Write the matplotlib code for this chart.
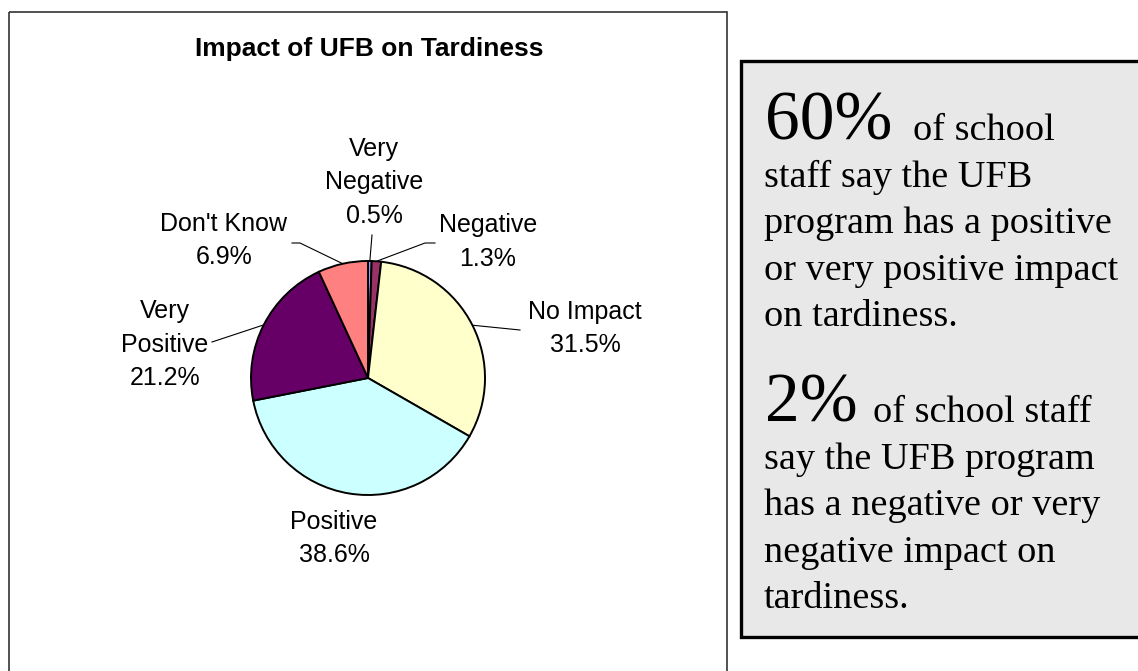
import matplotlib.pyplot as plt
from matplotlib.patches import Rectangle
import numpy as np

# data
categories = ["Very\nNegative", "Negative", "No Impact", "Positive", "Very\nPositive", "Don't Know"]
shares = [0.5, 1.3, 31.5, 38.6, 21.2, 6.9]
colors = ["#9999FF", "#993366", "#FFFFCC", "#CCFFFF", "#660066", "#FF8080"]
title = "Impact of UFB on Tardiness"

big_numbers = ["60%", "2%"]
lead_words = ["of school", "of school staff"]
body_lines = [["staff say the UFB", "program has a positive", "or very positive impact", "on tardiness."],
              ["say the UFB program", "has a negative or very", "negative impact on", "tardiness."]]

W, H = 1138, 671
fig = plt.figure(figsize=(W / 100, H / 100), dpi=100)
bg = fig.add_axes([0, 0, 1, 1])
bg.set_xlim(0, W)
bg.set_ylim(H, 0)
bg.axis('off')

sans = 'Liberation Sans'
serif = 'Liberation Serif'

# chart frame + title
bg.add_patch(Rectangle((9, 12), 718, 700, fill=False, ec='#333333', lw=1.2))
bg.text(369, 56, title, ha='center', va='baseline', fontsize=19, fontweight='bold', family=sans)

# pie, centre and radius in pixels
cx, cy, r = 368, 378, 117
pax = fig.add_axes([(cx - r) / W, (H - cy - r) / H, 2 * r / W, 2 * r / H])
wedges, _ = pax.pie(shares, colors=colors, startangle=90, counterclock=False,
                    wedgeprops=dict(edgecolor='black', linewidth=1.4))
for w in wedges:
    w.set_clip_on(False)
pax.set_xlim(-1, 1)
pax.set_ylim(-1, 1)

# label placement: x centre, first baseline, leader-line points from the label side
label_pos = [(374, 156), (488, 232), (585, 319), (334, 529), (165, 318), (224, 231)]
leaders = [[(372, 235)], [(435, 243), (425, 243)], [(520, 330)], [], [(212, 342)], [(292, 243), (300, 243)]]
line_gap = 33.5

for i, (name, pct) in enumerate(zip(categories, shares)):
    x, y0 = label_pos[i]
    lines = name.split("\n") + [f"{pct}%"]
    for k, ln in enumerate(lines):
        bg.text(x, y0 + k * line_gap, ln, ha='center', va='baseline', fontsize=18, family=sans)
    if leaders[i]:
        th = np.deg2rad((wedges[i].theta1 + wedges[i].theta2) / 2)
        ex, ey = cx + r * np.cos(th), cy - r * np.sin(th)
        pts = leaders[i] + [(ex, ey)]
        bg.plot([p[0] for p in pts], [p[1] for p in pts], color='black', lw=0.8)

# callout box on the right
bg.add_patch(Rectangle((741, 61), 420, 576, fc='#E8E8E8', ec='black', lw=2.4, clip_on=False))
block_top = [140, 422]
lead_x = [913, 873]
gap = 46.6
for j in range(2):
    bg.text(765, block_top[j], big_numbers[j], ha='left', va='baseline', fontsize=50, family=serif)
    bg.text(lead_x[j], block_top[j], lead_words[j], ha='left', va='baseline', fontsize=27.5, family=serif)
    for k, ln in enumerate(body_lines[j]):
        bg.text(764, block_top[j] + (k + 1) * gap, ln, ha='left', va='baseline', fontsize=27.5, family=serif)

fig.savefig('out.png', dpi=100)
